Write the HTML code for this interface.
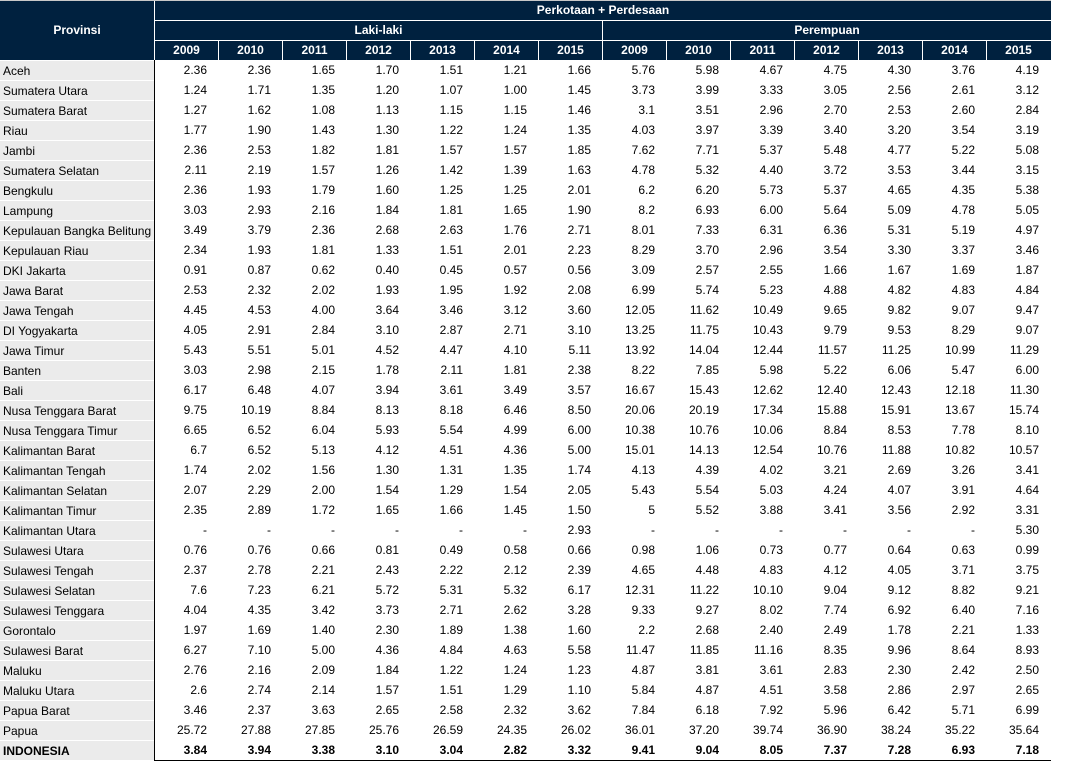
<!DOCTYPE html>
<html><head><meta charset="utf-8">
<style>
*{margin:0;padding:0;box-sizing:border-box}
body{width:1068px;height:768px;background:#fff;position:relative;overflow:hidden;font-family:"Liberation Sans",Arial,sans-serif;color:#000}
.hd{position:absolute;background:#00213f;color:#fff;font-weight:bold;text-align:center}
.wl{position:absolute;background:#fff}
.yr{position:absolute;top:41px;height:19px;width:63px;line-height:19px;font-size:12px;color:#fff;font-weight:bold;text-align:center}
.rows{position:absolute;left:0;top:60px;width:1051px}
.r{display:flex;height:20px;line-height:21px}
.r .l{width:154px;background:#ebebeb;border-top:1px solid #fff;padding-left:3px;font-size:12px;white-space:nowrap;overflow:hidden;line-height:20px}
.r .s{width:1px;background:#000}
.r span.n{width:64px;text-align:right;padding-right:12px;font-size:12px}
.r.b span{font-weight:bold}
</style></head><body>
<div style="position:absolute;left:0;top:0;width:1051px;height:1px;background:#c8c8c8"></div>
<div class="hd" style="left:0;top:1px;width:1051px;height:59px"></div>
<div class="hd" style="left:0;top:1px;width:154px;height:59px;line-height:59px;font-size:12px">Provinsi</div>
<div class="wl" style="left:154px;top:1px;width:1px;height:59px"></div>
<div class="hd" style="left:155px;top:1px;width:896px;height:19px;line-height:19px;font-size:12px">Perkotaan + Perdesaan</div>
<div class="wl" style="left:155px;top:20px;width:896px;height:1px"></div>
<div class="hd" style="left:155px;top:21px;width:447px;height:19px;line-height:19px;font-size:12px">Laki-laki</div>
<div class="hd" style="left:603px;top:21px;width:448px;height:19px;line-height:19px;font-size:12px">Perempuan</div>
<div class="wl" style="left:602px;top:21px;width:1px;height:19px"></div>
<div class="wl" style="left:155px;top:40px;width:896px;height:1px"></div>
<div class="yr" style="left:155px">2009</div>
<div class="yr" style="left:219px">2010</div>
<div class="yr" style="left:283px">2011</div>
<div class="yr" style="left:347px">2012</div>
<div class="yr" style="left:411px">2013</div>
<div class="yr" style="left:475px">2014</div>
<div class="yr" style="left:539px">2015</div>
<div class="yr" style="left:603px">2009</div>
<div class="yr" style="left:667px">2010</div>
<div class="yr" style="left:731px">2011</div>
<div class="yr" style="left:795px">2012</div>
<div class="yr" style="left:859px">2013</div>
<div class="yr" style="left:923px">2014</div>
<div class="yr" style="left:987px">2015</div>
<div class="wl" style="left:218px;top:41px;width:1px;height:19px"></div>
<div class="wl" style="left:282px;top:41px;width:1px;height:19px"></div>
<div class="wl" style="left:346px;top:41px;width:1px;height:19px"></div>
<div class="wl" style="left:410px;top:41px;width:1px;height:19px"></div>
<div class="wl" style="left:474px;top:41px;width:1px;height:19px"></div>
<div class="wl" style="left:538px;top:41px;width:1px;height:19px"></div>
<div class="wl" style="left:602px;top:41px;width:1px;height:19px"></div>
<div class="wl" style="left:666px;top:41px;width:1px;height:19px"></div>
<div class="wl" style="left:730px;top:41px;width:1px;height:19px"></div>
<div class="wl" style="left:794px;top:41px;width:1px;height:19px"></div>
<div class="wl" style="left:858px;top:41px;width:1px;height:19px"></div>
<div class="wl" style="left:922px;top:41px;width:1px;height:19px"></div>
<div class="wl" style="left:986px;top:41px;width:1px;height:19px"></div>

<div class="rows">
<div class="r"><span class="l">Aceh</span><span class="s"></span><span class="n">2.36</span><span class="n">2.36</span><span class="n">1.65</span><span class="n">1.70</span><span class="n">1.51</span><span class="n">1.21</span><span class="n">1.66</span><span class="n">5.76</span><span class="n">5.98</span><span class="n">4.67</span><span class="n">4.75</span><span class="n">4.30</span><span class="n">3.76</span><span class="n">4.19</span></div>
<div class="r"><span class="l">Sumatera Utara</span><span class="s"></span><span class="n">1.24</span><span class="n">1.71</span><span class="n">1.35</span><span class="n">1.20</span><span class="n">1.07</span><span class="n">1.00</span><span class="n">1.45</span><span class="n">3.73</span><span class="n">3.99</span><span class="n">3.33</span><span class="n">3.05</span><span class="n">2.56</span><span class="n">2.61</span><span class="n">3.12</span></div>
<div class="r"><span class="l">Sumatera Barat</span><span class="s"></span><span class="n">1.27</span><span class="n">1.62</span><span class="n">1.08</span><span class="n">1.13</span><span class="n">1.15</span><span class="n">1.15</span><span class="n">1.46</span><span class="n">3.1</span><span class="n">3.51</span><span class="n">2.96</span><span class="n">2.70</span><span class="n">2.53</span><span class="n">2.60</span><span class="n">2.84</span></div>
<div class="r"><span class="l">Riau</span><span class="s"></span><span class="n">1.77</span><span class="n">1.90</span><span class="n">1.43</span><span class="n">1.30</span><span class="n">1.22</span><span class="n">1.24</span><span class="n">1.35</span><span class="n">4.03</span><span class="n">3.97</span><span class="n">3.39</span><span class="n">3.40</span><span class="n">3.20</span><span class="n">3.54</span><span class="n">3.19</span></div>
<div class="r"><span class="l">Jambi</span><span class="s"></span><span class="n">2.36</span><span class="n">2.53</span><span class="n">1.82</span><span class="n">1.81</span><span class="n">1.57</span><span class="n">1.57</span><span class="n">1.85</span><span class="n">7.62</span><span class="n">7.71</span><span class="n">5.37</span><span class="n">5.48</span><span class="n">4.77</span><span class="n">5.22</span><span class="n">5.08</span></div>
<div class="r"><span class="l">Sumatera Selatan</span><span class="s"></span><span class="n">2.11</span><span class="n">2.19</span><span class="n">1.57</span><span class="n">1.26</span><span class="n">1.42</span><span class="n">1.39</span><span class="n">1.63</span><span class="n">4.78</span><span class="n">5.32</span><span class="n">4.40</span><span class="n">3.72</span><span class="n">3.53</span><span class="n">3.44</span><span class="n">3.15</span></div>
<div class="r"><span class="l">Bengkulu</span><span class="s"></span><span class="n">2.36</span><span class="n">1.93</span><span class="n">1.79</span><span class="n">1.60</span><span class="n">1.25</span><span class="n">1.25</span><span class="n">2.01</span><span class="n">6.2</span><span class="n">6.20</span><span class="n">5.73</span><span class="n">5.37</span><span class="n">4.65</span><span class="n">4.35</span><span class="n">5.38</span></div>
<div class="r"><span class="l">Lampung</span><span class="s"></span><span class="n">3.03</span><span class="n">2.93</span><span class="n">2.16</span><span class="n">1.84</span><span class="n">1.81</span><span class="n">1.65</span><span class="n">1.90</span><span class="n">8.2</span><span class="n">6.93</span><span class="n">6.00</span><span class="n">5.64</span><span class="n">5.09</span><span class="n">4.78</span><span class="n">5.05</span></div>
<div class="r"><span class="l">Kepulauan Bangka Belitung</span><span class="s"></span><span class="n">3.49</span><span class="n">3.79</span><span class="n">2.36</span><span class="n">2.68</span><span class="n">2.63</span><span class="n">1.76</span><span class="n">2.71</span><span class="n">8.01</span><span class="n">7.33</span><span class="n">6.31</span><span class="n">6.36</span><span class="n">5.31</span><span class="n">5.19</span><span class="n">4.97</span></div>
<div class="r"><span class="l">Kepulauan Riau</span><span class="s"></span><span class="n">2.34</span><span class="n">1.93</span><span class="n">1.81</span><span class="n">1.33</span><span class="n">1.51</span><span class="n">2.01</span><span class="n">2.23</span><span class="n">8.29</span><span class="n">3.70</span><span class="n">2.96</span><span class="n">3.54</span><span class="n">3.30</span><span class="n">3.37</span><span class="n">3.46</span></div>
<div class="r"><span class="l">DKI Jakarta</span><span class="s"></span><span class="n">0.91</span><span class="n">0.87</span><span class="n">0.62</span><span class="n">0.40</span><span class="n">0.45</span><span class="n">0.57</span><span class="n">0.56</span><span class="n">3.09</span><span class="n">2.57</span><span class="n">2.55</span><span class="n">1.66</span><span class="n">1.67</span><span class="n">1.69</span><span class="n">1.87</span></div>
<div class="r"><span class="l">Jawa Barat</span><span class="s"></span><span class="n">2.53</span><span class="n">2.32</span><span class="n">2.02</span><span class="n">1.93</span><span class="n">1.95</span><span class="n">1.92</span><span class="n">2.08</span><span class="n">6.99</span><span class="n">5.74</span><span class="n">5.23</span><span class="n">4.88</span><span class="n">4.82</span><span class="n">4.83</span><span class="n">4.84</span></div>
<div class="r"><span class="l">Jawa Tengah</span><span class="s"></span><span class="n">4.45</span><span class="n">4.53</span><span class="n">4.00</span><span class="n">3.64</span><span class="n">3.46</span><span class="n">3.12</span><span class="n">3.60</span><span class="n">12.05</span><span class="n">11.62</span><span class="n">10.49</span><span class="n">9.65</span><span class="n">9.82</span><span class="n">9.07</span><span class="n">9.47</span></div>
<div class="r"><span class="l">DI Yogyakarta</span><span class="s"></span><span class="n">4.05</span><span class="n">2.91</span><span class="n">2.84</span><span class="n">3.10</span><span class="n">2.87</span><span class="n">2.71</span><span class="n">3.10</span><span class="n">13.25</span><span class="n">11.75</span><span class="n">10.43</span><span class="n">9.79</span><span class="n">9.53</span><span class="n">8.29</span><span class="n">9.07</span></div>
<div class="r"><span class="l">Jawa Timur</span><span class="s"></span><span class="n">5.43</span><span class="n">5.51</span><span class="n">5.01</span><span class="n">4.52</span><span class="n">4.47</span><span class="n">4.10</span><span class="n">5.11</span><span class="n">13.92</span><span class="n">14.04</span><span class="n">12.44</span><span class="n">11.57</span><span class="n">11.25</span><span class="n">10.99</span><span class="n">11.29</span></div>
<div class="r"><span class="l">Banten</span><span class="s"></span><span class="n">3.03</span><span class="n">2.98</span><span class="n">2.15</span><span class="n">1.78</span><span class="n">2.11</span><span class="n">1.81</span><span class="n">2.38</span><span class="n">8.22</span><span class="n">7.85</span><span class="n">5.98</span><span class="n">5.22</span><span class="n">6.06</span><span class="n">5.47</span><span class="n">6.00</span></div>
<div class="r"><span class="l">Bali</span><span class="s"></span><span class="n">6.17</span><span class="n">6.48</span><span class="n">4.07</span><span class="n">3.94</span><span class="n">3.61</span><span class="n">3.49</span><span class="n">3.57</span><span class="n">16.67</span><span class="n">15.43</span><span class="n">12.62</span><span class="n">12.40</span><span class="n">12.43</span><span class="n">12.18</span><span class="n">11.30</span></div>
<div class="r"><span class="l">Nusa Tenggara Barat</span><span class="s"></span><span class="n">9.75</span><span class="n">10.19</span><span class="n">8.84</span><span class="n">8.13</span><span class="n">8.18</span><span class="n">6.46</span><span class="n">8.50</span><span class="n">20.06</span><span class="n">20.19</span><span class="n">17.34</span><span class="n">15.88</span><span class="n">15.91</span><span class="n">13.67</span><span class="n">15.74</span></div>
<div class="r"><span class="l">Nusa Tenggara Timur</span><span class="s"></span><span class="n">6.65</span><span class="n">6.52</span><span class="n">6.04</span><span class="n">5.93</span><span class="n">5.54</span><span class="n">4.99</span><span class="n">6.00</span><span class="n">10.38</span><span class="n">10.76</span><span class="n">10.06</span><span class="n">8.84</span><span class="n">8.53</span><span class="n">7.78</span><span class="n">8.10</span></div>
<div class="r"><span class="l">Kalimantan Barat</span><span class="s"></span><span class="n">6.7</span><span class="n">6.52</span><span class="n">5.13</span><span class="n">4.12</span><span class="n">4.51</span><span class="n">4.36</span><span class="n">5.00</span><span class="n">15.01</span><span class="n">14.13</span><span class="n">12.54</span><span class="n">10.76</span><span class="n">11.88</span><span class="n">10.82</span><span class="n">10.57</span></div>
<div class="r"><span class="l">Kalimantan Tengah</span><span class="s"></span><span class="n">1.74</span><span class="n">2.02</span><span class="n">1.56</span><span class="n">1.30</span><span class="n">1.31</span><span class="n">1.35</span><span class="n">1.74</span><span class="n">4.13</span><span class="n">4.39</span><span class="n">4.02</span><span class="n">3.21</span><span class="n">2.69</span><span class="n">3.26</span><span class="n">3.41</span></div>
<div class="r"><span class="l">Kalimantan Selatan</span><span class="s"></span><span class="n">2.07</span><span class="n">2.29</span><span class="n">2.00</span><span class="n">1.54</span><span class="n">1.29</span><span class="n">1.54</span><span class="n">2.05</span><span class="n">5.43</span><span class="n">5.54</span><span class="n">5.03</span><span class="n">4.24</span><span class="n">4.07</span><span class="n">3.91</span><span class="n">4.64</span></div>
<div class="r"><span class="l">Kalimantan Timur</span><span class="s"></span><span class="n">2.35</span><span class="n">2.89</span><span class="n">1.72</span><span class="n">1.65</span><span class="n">1.66</span><span class="n">1.45</span><span class="n">1.50</span><span class="n">5</span><span class="n">5.52</span><span class="n">3.88</span><span class="n">3.41</span><span class="n">3.56</span><span class="n">2.92</span><span class="n">3.31</span></div>
<div class="r"><span class="l">Kalimantan Utara</span><span class="s"></span><span class="n">-</span><span class="n">-</span><span class="n">-</span><span class="n">-</span><span class="n">-</span><span class="n">-</span><span class="n">2.93</span><span class="n">-</span><span class="n">-</span><span class="n">-</span><span class="n">-</span><span class="n">-</span><span class="n">-</span><span class="n">5.30</span></div>
<div class="r"><span class="l">Sulawesi Utara</span><span class="s"></span><span class="n">0.76</span><span class="n">0.76</span><span class="n">0.66</span><span class="n">0.81</span><span class="n">0.49</span><span class="n">0.58</span><span class="n">0.66</span><span class="n">0.98</span><span class="n">1.06</span><span class="n">0.73</span><span class="n">0.77</span><span class="n">0.64</span><span class="n">0.63</span><span class="n">0.99</span></div>
<div class="r"><span class="l">Sulawesi Tengah</span><span class="s"></span><span class="n">2.37</span><span class="n">2.78</span><span class="n">2.21</span><span class="n">2.43</span><span class="n">2.22</span><span class="n">2.12</span><span class="n">2.39</span><span class="n">4.65</span><span class="n">4.48</span><span class="n">4.83</span><span class="n">4.12</span><span class="n">4.05</span><span class="n">3.71</span><span class="n">3.75</span></div>
<div class="r"><span class="l">Sulawesi Selatan</span><span class="s"></span><span class="n">7.6</span><span class="n">7.23</span><span class="n">6.21</span><span class="n">5.72</span><span class="n">5.31</span><span class="n">5.32</span><span class="n">6.17</span><span class="n">12.31</span><span class="n">11.22</span><span class="n">10.10</span><span class="n">9.04</span><span class="n">9.12</span><span class="n">8.82</span><span class="n">9.21</span></div>
<div class="r"><span class="l">Sulawesi Tenggara</span><span class="s"></span><span class="n">4.04</span><span class="n">4.35</span><span class="n">3.42</span><span class="n">3.73</span><span class="n">2.71</span><span class="n">2.62</span><span class="n">3.28</span><span class="n">9.33</span><span class="n">9.27</span><span class="n">8.02</span><span class="n">7.74</span><span class="n">6.92</span><span class="n">6.40</span><span class="n">7.16</span></div>
<div class="r"><span class="l">Gorontalo</span><span class="s"></span><span class="n">1.97</span><span class="n">1.69</span><span class="n">1.40</span><span class="n">2.30</span><span class="n">1.89</span><span class="n">1.38</span><span class="n">1.60</span><span class="n">2.2</span><span class="n">2.68</span><span class="n">2.40</span><span class="n">2.49</span><span class="n">1.78</span><span class="n">2.21</span><span class="n">1.33</span></div>
<div class="r"><span class="l">Sulawesi Barat</span><span class="s"></span><span class="n">6.27</span><span class="n">7.10</span><span class="n">5.00</span><span class="n">4.36</span><span class="n">4.84</span><span class="n">4.63</span><span class="n">5.58</span><span class="n">11.47</span><span class="n">11.85</span><span class="n">11.16</span><span class="n">8.35</span><span class="n">9.96</span><span class="n">8.64</span><span class="n">8.93</span></div>
<div class="r"><span class="l">Maluku</span><span class="s"></span><span class="n">2.76</span><span class="n">2.16</span><span class="n">2.09</span><span class="n">1.84</span><span class="n">1.22</span><span class="n">1.24</span><span class="n">1.23</span><span class="n">4.87</span><span class="n">3.81</span><span class="n">3.61</span><span class="n">2.83</span><span class="n">2.30</span><span class="n">2.42</span><span class="n">2.50</span></div>
<div class="r"><span class="l">Maluku Utara</span><span class="s"></span><span class="n">2.6</span><span class="n">2.74</span><span class="n">2.14</span><span class="n">1.57</span><span class="n">1.51</span><span class="n">1.29</span><span class="n">1.10</span><span class="n">5.84</span><span class="n">4.87</span><span class="n">4.51</span><span class="n">3.58</span><span class="n">2.86</span><span class="n">2.97</span><span class="n">2.65</span></div>
<div class="r"><span class="l">Papua Barat</span><span class="s"></span><span class="n">3.46</span><span class="n">2.37</span><span class="n">3.63</span><span class="n">2.65</span><span class="n">2.58</span><span class="n">2.32</span><span class="n">3.62</span><span class="n">7.84</span><span class="n">6.18</span><span class="n">7.92</span><span class="n">5.96</span><span class="n">6.42</span><span class="n">5.71</span><span class="n">6.99</span></div>
<div class="r"><span class="l">Papua</span><span class="s"></span><span class="n">25.72</span><span class="n">27.88</span><span class="n">27.85</span><span class="n">25.76</span><span class="n">26.59</span><span class="n">24.35</span><span class="n">26.02</span><span class="n">36.01</span><span class="n">37.20</span><span class="n">39.74</span><span class="n">36.90</span><span class="n">38.24</span><span class="n">35.22</span><span class="n">35.64</span></div>
<div class="r b"><span class="l">INDONESIA</span><span class="s"></span><span class="n">3.84</span><span class="n">3.94</span><span class="n">3.38</span><span class="n">3.10</span><span class="n">3.04</span><span class="n">2.82</span><span class="n">3.32</span><span class="n">9.41</span><span class="n">9.04</span><span class="n">8.05</span><span class="n">7.37</span><span class="n">7.28</span><span class="n">6.93</span><span class="n">7.18</span></div>
</div>
<div style="position:absolute;left:154px;top:760px;width:897px;height:1px;background:#000"></div>
</body></html>
